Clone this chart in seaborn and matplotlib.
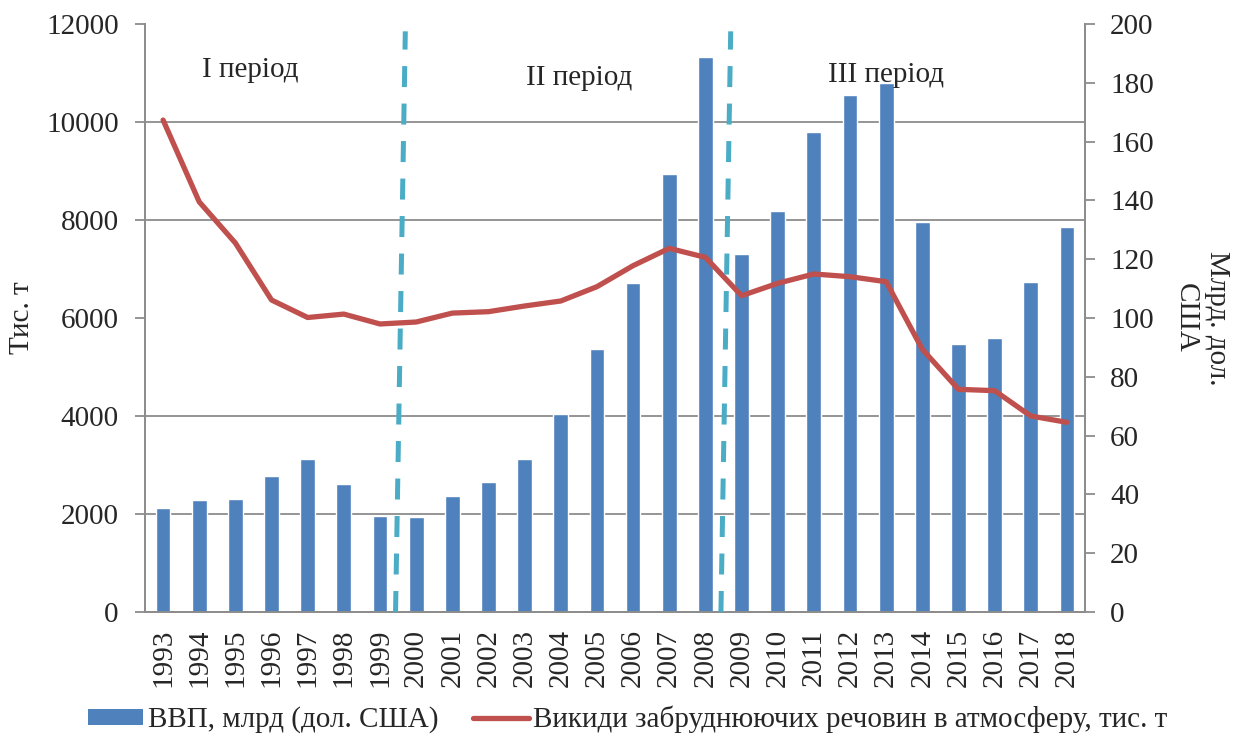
'''GDP vs air-pollutant emissions, Ukraine 1993-2018, split into three periods.'''
import numpy as np
import pandas as pd
import matplotlib
matplotlib.use('Agg')
import matplotlib.pyplot as plt
from matplotlib.patches import Patch
from matplotlib.lines import Line2D
import seaborn as sns

YEARS = [str(y) for y in range(1993, 2019)]
GDP_BN_USD = [35.3, 38.1, 38.4, 46.3, 51.9, 43.5, 32.7, 32.4, 39.3, 44.1, 52.0, 67.3, 89.5,
              112.0, 149.0, 188.7, 121.8, 136.3, 163.4, 175.9, 179.8, 132.8, 91.2, 93.3,
              112.4, 131.1]
EMISSIONS_KT = [10040, 8370, 7530, 6367, 6010, 6080, 5878, 5918, 6100, 6129, 6245, 6347,
                6639, 7068, 7422, 7238, 6455, 6708, 6898, 6843, 6741, 5361, 4544, 4517,
                4000, 3871]
PERIOD_LABELS = ['I період', 'II період', 'III період']
PERIOD_BREAKS = ['1999', '2008']  # boundary drawn after these years

BAR_LABEL = 'ВВП, млрд (дол. США)'
LINE_LABEL = 'Викиди забруднюючих речовин в атмосферу, тис. т'

BLUE = '#4F81BD'
RED = '#C0504D'
CYAN = '#4BACC6'
GREY = '#8C8C8C'
FS = 21

sns.set_style('white')
plt.rcParams['font.family'] = ['Liberation Serif', 'DejaVu Serif']
plt.rcParams['font.size'] = FS

df = pd.DataFrame({'year': YEARS, 'gdp': GDP_BN_USD, 'emissions': EMISSIONS_KT})
df['pos'] = np.arange(len(df))

fig, ax = plt.subplots(figsize=(12.43, 7.38), dpi=100)
fig.subplots_adjust(left=145 / 1243, right=1085 / 1243, top=1 - 24 / 738, bottom=1 - 612 / 738)
ax2 = ax.twinx()

# bars on the right (GDP) axis, kept underneath the emissions line
sns.barplot(data=df, x='year', y='gdp', color=BLUE, saturation=1, width=0.41, ax=ax2)
ax2.set_ylim(0, 200)
ax2.set_yticks(np.arange(0, 201, 20))
ax2.set_yticks(np.linspace(0, 200, 7), minor=True)  # grid follows left-axis ticks
ax2.grid(which='minor', axis='y', color=GREY, lw=1.3)
ax2.grid(which='major', visible=False)
ax2.set_axisbelow(True)
ax2.tick_params(axis='y', which='major', length=7, width=1.3, color=GREY, pad=11, labelsize=FS)
ax2.tick_params(axis='y', which='minor', length=0)
ax2.set_ylabel('Млрд. дол.\nСША', rotation=-90, labelpad=55, fontsize=FS, linespacing=1.25)

ax.set_zorder(ax2.get_zorder() + 1)
ax.patch.set_visible(False)
sns.lineplot(data=df, x='pos', y='emissions', color=RED, lw=3.8, ax=ax)
ax.set_ylim(0, 12000)
ax.set_yticks(np.arange(0, 12001, 2000))
ax.set_xlim(-0.5, len(df) - 0.5)
ax.set_xticks(df['pos'])
ax.set_xticklabels(YEARS, rotation=90)
ax.tick_params(axis='x', length=0, pad=12, labelsize=FS)
ax.tick_params(axis='y', length=7, width=1.3, color=GREY, pad=12, labelsize=FS)
ax.set_xlabel('')
ax.set_ylabel('Тис. т', fontsize=FS, labelpad=8)
ax.grid(False)

for a in (ax, ax2):
    for side in ('left', 'right', 'bottom'):
        a.spines[side].set_color(GREY)
        a.spines[side].set_linewidth(1.3)
    a.spines['top'].set_visible(False)

# hand-drawn period boundaries (slightly slanted, as in the source)
for yr in PERIOD_BREAKS:
    b = YEARS.index(yr) + 0.5
    ax.plot([b - 0.07, b + 0.2], [0, 11850], color=CYAN, lw=3.6,
            dashes=(4.2, 3.3), solid_capstyle='butt', clip_on=False, zorder=5)

label_x = [2.4, 11.5, 20.0]
label_y = [11060, 10900, 10960]
for text, x, y in zip(PERIOD_LABELS, label_x, label_y):
    ax.text(x, y, text, ha='center', va='center', fontsize=FS, zorder=6)

handles = [Patch(facecolor=BLUE, edgecolor='none'), Line2D([], [], color=RED, lw=3.8)]
fig.legend(handles, [BAR_LABEL, LINE_LABEL], loc='center', bbox_to_anchor=(0.505, 0.025),
           ncol=2, frameon=False, fontsize=FS, handlelength=1.9, handleheight=0.45,
           handletextpad=0.15, columnspacing=1.2, borderpad=0)

fig.savefig('out.png', dpi=100)
